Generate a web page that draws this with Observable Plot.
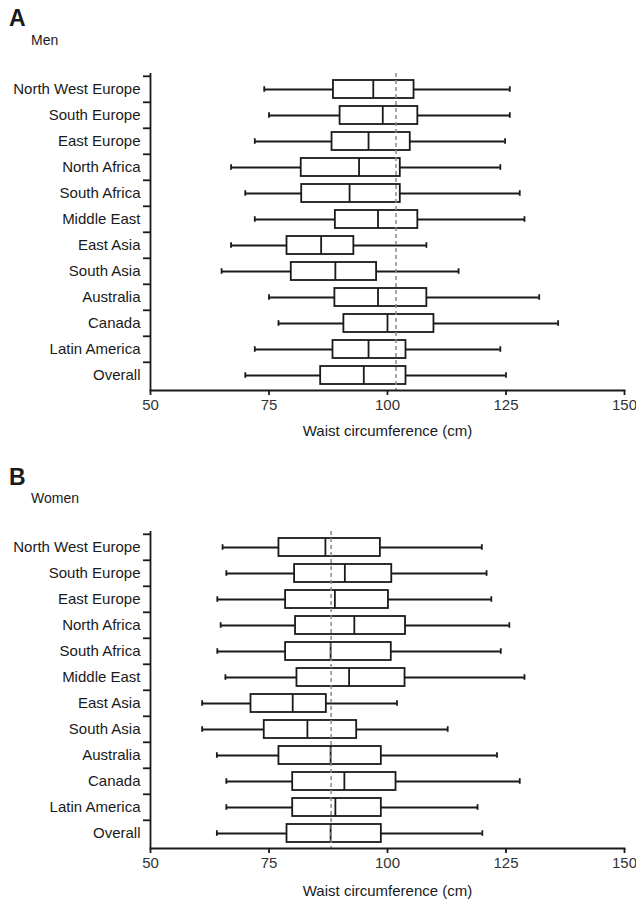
<!DOCTYPE html>
<html>
<head>
<meta charset="utf-8">
<script src="https://cdn.jsdelivr.net/npm/d3@7"></script>
<script src="https://cdn.jsdelivr.net/npm/@observablehq/plot@0.6"></script>
<style>
  html, body { margin: 0; padding: 0; background: #fff; }
  body { font-family: "Liberation Sans", Arial, Helvetica, sans-serif; color: #1a1a1a; }
  #page { position: relative; width: 636px; height: 900px; overflow: hidden; }
  .panel-letter { position: absolute; font-weight: bold; font-size: 23px; line-height: 1; }
  .panel-sub { position: absolute; font-size: 14px; line-height: 1; }
  .chart { position: absolute; left: 0; }
</style>
</head>
<body>
<div id="page">
  <div class="panel-letter" style="left:9px; top:7px;">A</div>
  <div class="panel-sub" style="left:31px; top:33px;">Men</div>
  <div class="chart" id="chartA" style="top:60px;"></div>
  <div class="panel-letter" style="left:9px; top:466px;">B</div>
  <div class="panel-sub" style="left:31px; top:491px;">Women</div>
  <div class="chart" id="chartB" style="top:518px;"></div>
</div>
<script>
const categories = ["North West Europe","South Europe","East Europe","North Africa","South Africa","Middle East","East Asia","South Asia","Australia","Canada","Latin America","Overall"];
const xTicks = [50, 75, 100, 125, 150];
const xLabel = "Waist circumference (cm)";

// Men
const menLow  = [74, 75, 72, 67, 70, 72, 67, 65, 75, 77, 72, 70];
const menQ1   = [88.6, 90, 88.3, 81.8, 81.9, 89, 78.8, 79.7, 88.9, 90.8, 88.5, 85.9];
const menMed  = [97, 99, 96, 94, 92, 98, 86, 89, 98, 100, 96, 95];
const menQ3   = [105.6, 106.4, 104.8, 102.7, 102.7, 106.4, 92.9, 97.7, 108.3, 109.8, 103.9, 103.9];
const menHigh = [125.8, 125.8, 124.8, 123.8, 127.9, 128.9, 108.2, 115, 132, 136, 123.8, 125];
const menRef = 101.8;

// Women
const womenLow  = [65.2, 66, 64.1, 64.8, 64.1, 65.8, 60.9, 60.9, 64, 66, 66, 64];
const womenQ1   = [77.1, 80.4, 78.5, 80.6, 78.5, 80.9, 71.2, 74, 77.1, 80, 80, 78.8];
const womenMed  = [86.9, 91, 88.9, 93, 88, 91.9, 80, 83.1, 88, 90.9, 89, 88];
const womenQ3   = [98.5, 100.9, 100.2, 103.8, 100.8, 103.7, 87.1, 93.5, 98.7, 101.8, 98.7, 98.7];
const womenHigh = [119.9, 120.9, 121.9, 125.7, 123.9, 128.9, 102, 112.7, 123.1, 127.9, 119, 120];
const womenRef = 88.1;

function rows(low, q1, med, q3, high) {
  return categories.map((c, i) => ({cat: c, low: low[i], q1: q1[i], med: med[i], q3: q3[i], high: high[i]}));
}

function chart(data, ref, opts) {
  const width = 636, height = opts.height, mt = 13, mb = opts.mb, ml = 150, mr = 12;
  const bw = (height - mt - mb) / categories.length;
  const ink = "#1a1a1a";
  const sw = 1.8;
  return Plot.plot({
    width, height,
    marginTop: mt, marginBottom: mb, marginLeft: ml, marginRight: mr,
    style: {fontFamily: '"Liberation Sans", Arial, Helvetica, sans-serif', fontSize: "15px", color: ink, background: "white"},
    x: {domain: [50, 150]},
    y: {domain: categories, padding: 0},
    marks: [
      // whiskers
      Plot.ruleY(data, {y: "cat", x1: "low", x2: "q1", stroke: ink, strokeWidth: sw}),
      Plot.ruleY(data, {y: "cat", x1: "q3", x2: "high", stroke: ink, strokeWidth: sw}),
      Plot.tickX(data, {y: "cat", x: "low", stroke: ink, strokeWidth: sw, insetTop: (bw - 6) / 2, insetBottom: (bw - 6) / 2}),
      Plot.tickX(data, {y: "cat", x: "high", stroke: ink, strokeWidth: sw, insetTop: (bw - 6) / 2, insetBottom: (bw - 6) / 2}),
      // boxes
      Plot.barX(data, {y: "cat", x1: "q1", x2: "q3", fill: "white", stroke: ink, strokeWidth: sw, insetTop: 4, insetBottom: 4}),
      Plot.tickX(data, {y: "cat", x: "med", stroke: ink, strokeWidth: sw, insetTop: 4, insetBottom: 4}),
      // reference line
      Plot.ruleX([ref], {stroke: "#8a8a8a", strokeWidth: 1.5, strokeDasharray: "4,3"}),
      // axes
      Plot.ruleX([50], {stroke: ink, strokeWidth: sw}),
      Plot.frame({anchor: "bottom", stroke: ink, strokeWidth: sw}),
      Plot.axisY({tickSize: 0, tickPadding: 10, label: null, fill: ink}),
      Plot.axisY({tickSize: 7, tickFormat: () => "", label: null, dy: -bw / 2, stroke: ink, strokeWidth: sw}),
      Plot.axisX({ticks: xTicks, tickSize: 5, tickPadding: 4, label: null, stroke: ink, strokeWidth: sw, fill: "#333"}),
      Plot.text([xLabel], {frameAnchor: "bottom", dy: opts.titleDy, lineAnchor: "middle", textAnchor: "middle", fill: ink, fontSize: 15})
    ]
  });
}

document.getElementById("chartA").appendChild(
  chart(rows(menLow, menQ1, menMed, menQ3, menHigh), menRef, {height: 390, mb: 60, titleDy: 41})
);
document.getElementById("chartB").appendChild(
  chart(rows(womenLow, womenQ1, womenMed, womenQ3, womenHigh), womenRef, {height: 382, mb: 52, titleDy: 43})
);
</script>
</body>
</html>
